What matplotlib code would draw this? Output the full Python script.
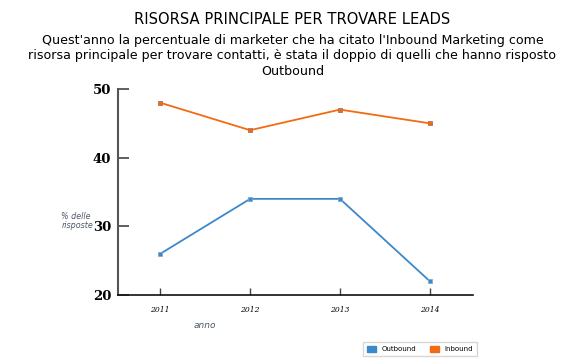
import matplotlib
matplotlib.use("Agg")
import matplotlib.pyplot as plt
from matplotlib.patches import Patch

years = [2011, 2012, 2013, 2014]
year_labels = ["2011", "2012", "2013", "2014"]
outbound = [26, 34, 34, 22]
inbound = [48, 44, 47, 45]
y_ticks = [20, 30, 40, 50]

c_out = "#3b88cb"
c_in = "#f26b14"

fig = plt.figure(figsize=(5.85, 3.64), dpi=100)
ax = fig.add_axes([118/585, 1-295/364, (473-118)/585, (295-89)/364])

ax.plot(years, outbound, color=c_out, lw=1.3, marker="s", ms=3.5, mfc=c_out, mec="#7fa9d0", mew=0.6)
ax.plot(years, inbound, color=c_in, lw=1.3, marker="s", ms=3.5, mfc=c_in, mec="#b07050", mew=0.6)

ax.set_xlim(2010.53, 2014.48)
ax.set_ylim(20, 50)
ax.set_yticks(y_ticks)
ax.set_yticklabels([str(v) for v in y_ticks], family="DejaVu Serif", fontweight="bold", fontsize=9.5)
ax.set_xticks(years)
ax.set_xticklabels(year_labels, family="DejaVu Serif", style="italic", fontsize=5.5)
ax.tick_params(axis="y", direction="in", length=8, width=1.2, color="#444444", pad=5)
ax.tick_params(axis="x", direction="in", length=5, width=1.0, color="#444444", pad=8)
for s in ["top", "right"]:
    ax.spines[s].set_visible(False)
ax.spines["left"].set_color("#555555")
ax.spines["left"].set_linewidth(1.5)
ax.spines["bottom"].set_color("#111111")
ax.spines["bottom"].set_linewidth(1.2)

fig.text(0.5, 1-20/364, "RISORSA PRINCIPALE PER TROVARE LEADS", ha="center", va="center", fontsize=10.6)
fig.text(0.5, 1-56/364,
         "Quest'anno la percentuale di marketer che ha citato l'Inbound Marketing come\n"
         "risorsa principale per trovare contatti, è stata il doppio di quelli che hanno risposto\n"
         "Outbound", ha="center", va="center", fontsize=9.1, linespacing=1.28)

fig.text(93/585, 1-221/364, "% delle\nrisposte", ha="right", va="center", fontsize=5.8,
         style="italic", color="#4a5a6a", linespacing=1.1, multialignment="left")
fig.text(205/585, 1-326/364, "anno", ha="center", va="center", fontsize=6.5,
         style="italic", color="#4a5a6a")

handles = [Patch(facecolor=c_out, edgecolor=c_out, label="Outbound"),
           Patch(facecolor=c_in, edgecolor=c_in, label="Inbound")]
leg = fig.legend(handles=handles, loc="center", bbox_to_anchor=(420/585, 1-349/364), ncol=2,
                 fontsize=5, frameon=True, fancybox=False, edgecolor="#cccccc",
                 handlelength=1.3, handleheight=1.0, columnspacing=2.0, borderpad=0.6)

fig.savefig("out.png", dpi=100)
